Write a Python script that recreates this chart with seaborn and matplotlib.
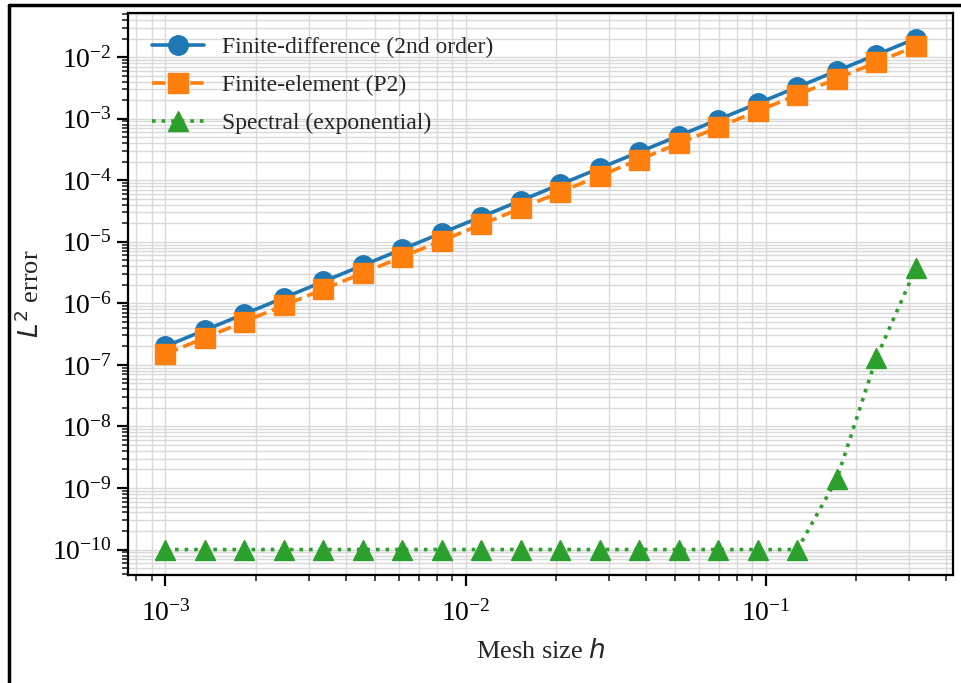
import matplotlib
matplotlib.use("Agg")
import matplotlib.pyplot as plt
import seaborn as sns
import pandas as pd
from matplotlib.lines import Line2D

# Mesh sizes (log-spaced from 1e-3 to ~0.316)
mesh_h = [1.000e-3, 1.354e-3, 1.833e-3, 2.482e-3, 3.360e-3, 4.549e-3, 6.158e-3,
          8.337e-3, 1.129e-2, 1.528e-2, 2.069e-2, 2.801e-2, 3.793e-2, 5.135e-2,
          6.952e-2, 9.412e-2, 0.1274, 0.1725, 0.2336, 0.3162]

fd_error = [2.00e-7, 3.67e-7, 6.72e-7, 1.23e-6, 2.26e-6, 4.14e-6, 7.58e-6,
            1.39e-5, 2.55e-5, 4.67e-5, 8.56e-5, 1.57e-4, 2.88e-4, 5.27e-4,
            9.67e-4, 1.77e-3, 3.25e-3, 5.95e-3, 1.09e-2, 2.00e-2]

fe_error = [1.50e-7, 2.75e-7, 5.04e-7, 9.24e-7, 1.69e-6, 3.10e-6, 5.69e-6,
            1.04e-5, 1.91e-5, 3.50e-5, 6.42e-5, 1.18e-4, 2.16e-4, 3.96e-4,
            7.25e-4, 1.33e-3, 2.43e-3, 4.46e-3, 8.19e-3, 1.50e-2]

spectral_error = [1e-10, 1e-10, 1e-10, 1e-10, 1e-10, 1e-10, 1e-10,
                  1e-10, 1e-10, 1e-10, 1e-10, 1e-10, 1e-10, 1e-10,
                  1e-10, 1e-10, 1e-10, 1.4e-9, 1.3e-7, 3.7e-6]

series_labels = ["Finite-difference (2nd order)", "Finite-element (P2)", "Spectral (exponential)"]

sns.set_theme(style="ticks")
plt.rcParams['font.family'] = 'serif'
plt.rcParams['font.serif'] = ['Liberation Serif', 'DejaVu Serif']
plt.rcParams['mathtext.fontset'] = 'dejavusans'
plt.rcParams['axes.edgecolor'] = 'black'
plt.rcParams['axes.linewidth'] = 1.6

fig = plt.figure(figsize=(9.62, 6.83), dpi=100)
ax = fig.add_axes([0.133, 0.158, 0.858, 0.823])

df = pd.DataFrame({"h": mesh_h, "fd": fd_error, "fe": fe_error, "sp": spectral_error})

sns.lineplot(data=df, x="h", y="fd", ax=ax, label=series_labels[0], color="#1f77b4",
             marker="o", markersize=14, linewidth=2.6, linestyle="-",
             markeredgecolor="#1f77b4", markeredgewidth=1, zorder=3)
sns.lineplot(data=df, x="h", y="fe", ax=ax, label=series_labels[1], color="#ff7f0e",
             marker="s", markersize=14, linewidth=2.6, linestyle="--",
             markeredgecolor="#ff7f0e", markeredgewidth=1, zorder=4)
sns.lineplot(data=df, x="h", y="sp", ax=ax, label=series_labels[2], color="#2ca02c",
             marker="^", markersize=14, linewidth=2.6, linestyle=":",
             markeredgecolor="#2ca02c", markeredgewidth=1, zorder=5)

ax.set_xscale("log")
ax.set_yscale("log")
ax.grid(True, which="both", color="#d9d9d9", linewidth=1.0)
ax.set_axisbelow(True)

ax.tick_params(which="major", direction="out", length=8, width=1.6, labelsize=20, colors="black")
ax.tick_params(axis="x", which="major", pad=10)
ax.tick_params(which="minor", direction="out", length=4, width=1.2)

ax.set_xlabel("Mesh size $h$", fontsize=19, labelpad=9)
ax.set_ylabel("$L^2$ error", fontsize=19, labelpad=6)

ax.legend(loc="upper left", frameon=False, fontsize=17, handlelength=2.2,
          labelspacing=0.7, borderaxespad=0.6)

# screenshot frame lines (top and left)
fig.add_artist(Line2D([0.009, 1.0], [0.993, 0.993], transform=fig.transFigure,
                      color="black", linewidth=2.5))
fig.add_artist(Line2D([0.009, 0.009], [0.0, 0.993], transform=fig.transFigure,
                      color="black", linewidth=2.5))

fig.savefig("out.png", dpi=100)
